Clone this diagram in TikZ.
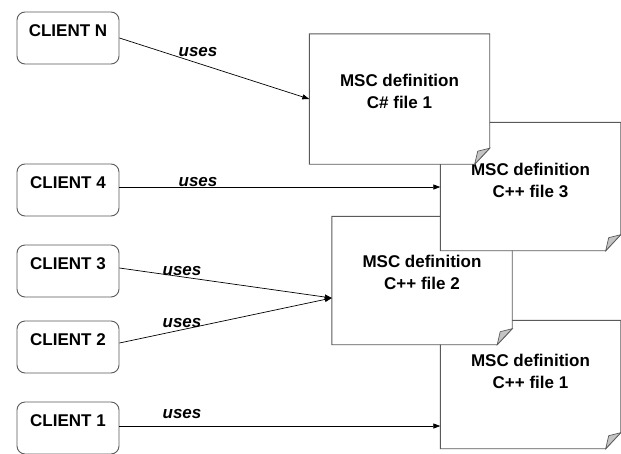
\documentclass[tikz,border=0pt]{standalone}
\usepackage{fontspec}
\setmainfont{Liberation Sans}
\usetikzlibrary{arrows.meta,calc}
\definecolor{edgegray}{HTML}{5A5A5A}
\definecolor{foldgray}{HTML}{C4C4C4}
\tikzset{
  client/.style={draw=edgegray, line width=0.9pt, rounded corners=8pt, fill=white,
    minimum width=102pt, minimum height=52pt, inner xsep=0pt, inner ysep=5pt,
    text height=19pt, text depth=23pt,
    font=\fontsize{17}{20}\selectfont\bfseries},
  filebox/.style={draw=none, fill=none, minimum width=180pt, minimum height=128pt, inner sep=0pt},
  filetext/.style={anchor=base, inner sep=0pt, font=\fontsize{17}{20}\selectfont\bfseries},
  outline/.style={draw=edgegray, line width=0.9pt, fill=white},
  fold/.style={draw=edgegray, line width=0.7pt, fill=foldgray},
  uses/.style={draw=black, line width=0.7pt, -{Triangle[length=7pt,width=5pt]}},
  useslabel/.style={anchor=base, inner sep=0pt, font=\fontsize{17}{20}\selectfont\bfseries\itshape},
}
% draws a sheet with a dog-eared bottom right corner around node #1
\newcommand{\sheet}[1]{%
  \path[outline] (#1.north west) -- (#1.north east) -- ($(#1.south east)+(0,-16)$)
     -- ($(#1.south east)+(-15,0)$) -- (#1.south west) -- cycle;
  \path[fold] ($(#1.south east)+(0,-16)$) -- ($(#1.south east)+(-12,-13)$)
     -- ($(#1.south east)+(-15,0)$) -- cycle;
}
\begin{document}
\begin{tikzpicture}[x=1pt,y=-1pt]
\useasboundingbox[fill=white] (0,0) rectangle (621,453);

% client boxes
\node[client] (cN) at (68,38)  {CLIENT N};
\node[client] (c4) at (68,190) {CLIENT 4};
\node[client] (c3) at (68,271) {CLIENT 3};
\node[client] (c2) at (68,347) {CLIENT 2};
\node[client] (c1) at (68,428) {CLIENT 1};

% definition files, lowest sheet first
\node[filebox] (f1) at (530.5,384.5) {};
\node[filebox] (f2) at (422,280.5) {};
\node[filebox] (f3) at (530.5,186.5) {};
\node[filebox, minimum height=130pt] (fs) at (399.5,99) {};
\sheet{f1}
\node[filetext] (f1a) at ($(f1.north)+(0,46)$) {MSC definition};
\node[filetext] (f1b) at ($(f1.north)+(0,68)$) {C++ file 1};
\sheet{f2}
\node[filetext] (f2a) at ($(f2.north)+(0,51)$) {MSC definition};
\node[filetext] (f2b) at ($(f2.north)+(0,73)$) {C++ file 2};
\sheet{f3}
\node[filetext] (f3a) at ($(f3.north)+(0,53)$) {MSC definition};
\node[filetext] (f3b) at ($(f3.north)+(0,75)$) {C++ file 3};
\sheet{fs}
\node[filetext] (fsa) at ($(fs.north)+(0,53)$) {MSC definition};
\node[filetext] (fsb) at ($(fs.north)+(0,75)$) {C\# file 1};

% arrow end points on the sheets
\coordinate (tN) at (fs.west);
\coordinate (t4) at ($(f3.west)+(0,0.5)$);
\coordinate (t23) at ($(f2.west)+(0,17.5)$);
\coordinate (t1) at ($(f1.west)+(0,41.5)$);

% connectors
\draw[uses] (cN.east) -- (tN);
\draw[uses] (c4.east |- t4) -- (t4);
\draw[uses] ($(c3.east)+(0,-3)$) -- (t23);
\draw[uses] ($(c2.east)+(0,-4)$) -- (t23);
\draw[uses] (c1.east |- t1) -- (t1);

% connector labels
\node[useslabel] (lN) at (198,56)  {uses};
\node[useslabel] (l4) at (198,186) {uses};
\node[useslabel] (l3) at (182,275) {uses};
\node[useslabel] (l2) at (182,327) {uses};
\node[useslabel] (l1) at (182,418) {uses};
\end{tikzpicture}
\end{document}
